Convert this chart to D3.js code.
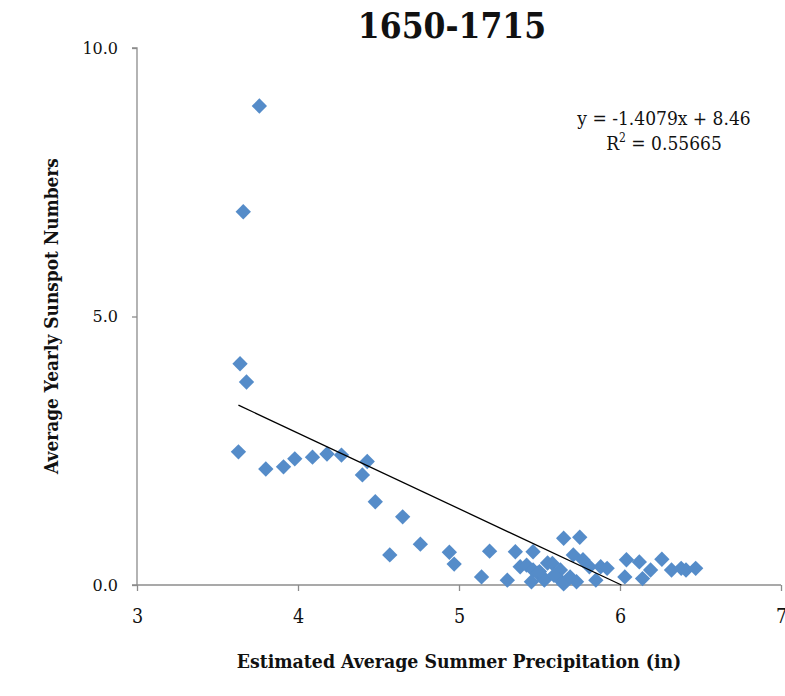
<!DOCTYPE html>
<html>
<head>
<meta charset="utf-8">
<script src="https://cdn.jsdelivr.net/npm/d3@7"></script>
<style>
  html, body { margin: 0; padding: 0; background: #fff; }
  svg { display: block; }
  text { font-family: "DejaVu Serif", "Liberation Serif", serif; fill: #111; }
</style>
</head>
<body>
<svg id="chart" width="785" height="696"></svg>
<script>
// Estimated average summer precipitation (in) for each year-group
const precip = [
  3.76, 3.66, 3.64, 3.68, 3.63, 3.80, 3.91, 3.98, 4.09, 4.18,
  4.27, 4.43, 4.40, 4.48, 4.65, 4.57, 4.76, 4.94, 4.97, 5.19,
  5.14, 5.30, 5.35, 5.46, 5.38, 5.42, 5.46, 5.49, 5.45, 5.53,
  5.55, 5.58, 5.53, 5.63, 5.65, 5.75, 5.71, 5.77, 5.81, 5.88,
  5.92, 5.63, 5.65, 5.73, 5.69, 5.85, 6.03, 6.04, 6.12, 6.14,
  6.19, 6.26, 6.32, 6.38, 6.41, 6.47, 5.50, 5.59
];
// Average yearly sunspot numbers for the same points
const sunspots = [
  8.92, 6.95, 4.12, 3.78, 2.48, 2.16, 2.20, 2.35, 2.38, 2.44,
  2.42, 2.30, 2.05, 1.55, 1.27, 0.56, 0.76, 0.61, 0.39, 0.63,
  0.15, 0.09, 0.62, 0.62, 0.34, 0.37, 0.28, 0.22, 0.06, 0.12,
  0.41, 0.40, 0.09, 0.09, 0.87, 0.89, 0.56, 0.47, 0.34, 0.34,
  0.31, 0.28, 0.02, 0.06, 0.15, 0.09, 0.15, 0.47, 0.43, 0.12,
  0.28, 0.48, 0.28, 0.31, 0.28, 0.31, 0.25, 0.18
];
const xTicks = [3, 4, 5, 6, 7];
const yTicks = [0, 5, 10];
// Linear trendline fitted to the points
const slope = -1.4079;
const intercept = 8.46;
const rSquared = 0.55665;

const title = "1650-1715";
const xLabel = "Estimated Average Summer Precipitation (in)";
const yLabel = "Average Yearly Sunspot Numbers";

const svg = d3.select("#chart");
const plot = { left: 137, right: 781, top: 48, bottom: 585 };

const x = d3.scaleLinear().domain([3, 7]).range([plot.left, plot.right]);
const y = d3.scaleLinear().domain([0, 10]).range([plot.bottom, plot.top]);

const axisColor = "#8c8c8c";

// y axis
const yAxis = svg.append("g")
  .attr("transform", `translate(${plot.left},0)`)
  .call(d3.axisLeft(y).tickValues(yTicks).tickSize(5).tickPadding(14)
    .tickFormat(d3.format(".1f")));
yAxis.selectAll("path, line").attr("stroke", axisColor).attr("stroke-width", 1.3);
yAxis.select(".domain").attr("d", `M-5,${plot.top}H0V${plot.bottom}H-5`);
yAxis.selectAll("text")
  .attr("font-family", "DejaVu Serif")
  .attr("font-size", 16).attr("fill", "#222");

// x axis
const xAxis = svg.append("g")
  .attr("transform", `translate(0,${plot.bottom})`)
  .call(d3.axisBottom(x).tickValues(xTicks).tickSize(6).tickPadding(18)
    .tickFormat(d3.format("d")));
xAxis.selectAll("path, line").attr("stroke", axisColor).attr("stroke-width", 1.3);
xAxis.select(".domain").attr("d", `M${plot.left},0H${plot.right}`);
xAxis.selectAll("text")
  .attr("font-family", "DejaVu Serif")
  .attr("font-stretch", "condensed")
  .attr("font-size", 19.5).attr("fill", "#222");

// points as diamonds
const diamond = d3.symbol().type(d3.symbolDiamond2).size(150);
svg.append("g")
  .selectAll("path")
  .data(precip.map((p, i) => ({ p, s: sunspots[i] })))
  .join("path")
  .attr("d", diamond)
  .attr("transform", d => `translate(${x(d.p)},${y(d.s)})`)
  .attr("fill", "#558cc9");

// trendline, clipped where it meets the x axis
const xMin = d3.min(precip);
const xZero = Math.min(d3.max(precip), -intercept / slope);
svg.append("line")
  .attr("x1", x(xMin)).attr("y1", y(slope * xMin + intercept))
  .attr("x2", x(xZero)).attr("y2", y(slope * xZero + intercept))
  .attr("stroke", "#000").attr("stroke-width", 1.3);

// equation label
const eq = svg.append("text")
  .attr("text-anchor", "middle")
  .attr("font-stretch", "condensed")
  .attr("font-size", 19);
eq.append("tspan").attr("x", 664).attr("y", 125)
  .text(`y = ${slope}x + ${intercept}`);
const l2 = eq.append("tspan").attr("x", 664).attr("y", 150);
l2.append("tspan").text("R");
l2.append("tspan").attr("font-size", 12).attr("dy", -8).text("2");
l2.append("tspan").attr("dy", 8).text(` = ${rSquared}`);

// title
svg.append("text")
  .attr("x", 452).attr("y", 38)
  .attr("text-anchor", "middle")
  .attr("font-stretch", "condensed")
  .attr("font-size", 35).attr("font-weight", "bold")
  .text(title);

// axis titles
svg.append("text")
  .attr("x", 459).attr("y", 668)
  .attr("text-anchor", "middle")
  .attr("font-stretch", "condensed")
  .attr("font-size", 19.3).attr("font-weight", "bold")
  .text(xLabel);

svg.append("text")
  .attr("transform", "translate(58,316) rotate(-90)")
  .attr("text-anchor", "middle")
  .attr("font-stretch", "condensed")
  .attr("font-size", 18.9).attr("font-weight", "bold")
  .text(yLabel);
</script>
</body>
</html>
